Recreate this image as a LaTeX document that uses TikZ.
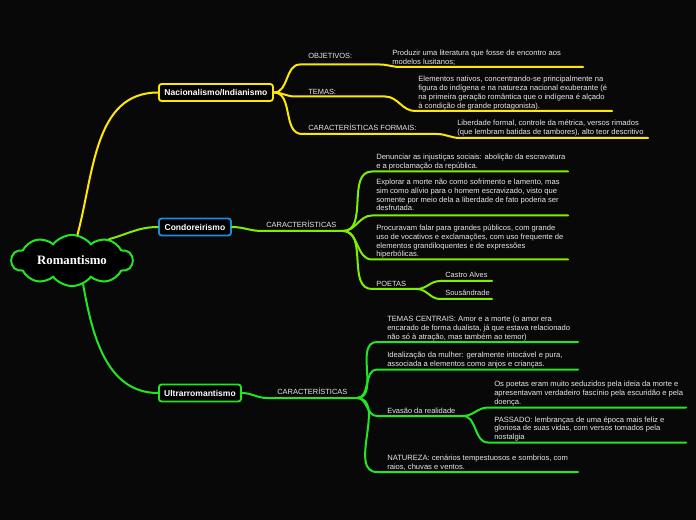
\documentclass[tikz,border=0pt]{standalone}
\usepackage{fontspec}
\setmainfont{Liberation Sans}
\newfontfamily\cloudfont{Liberation Serif}
\usetikzlibrary{shapes.symbols}
\definecolor{bgc}{RGB}{8,8,8}
\definecolor{cY}{RGB}{255,232,0}
\definecolor{cL}{RGB}{128,238,0}
\definecolor{cG}{RGB}{34,230,34}
\definecolor{cB}{RGB}{30,140,220}
\definecolor{txt}{RGB}{232,232,232}
\begin{document}
\begin{tikzpicture}[x=0.75pt,y=-0.75pt,
  conn/.style={line width=1.5pt,line cap=round},
  yconn/.style={conn,draw=cY},
  lconn/.style={conn,draw=cL},
  gconn/.style={conn,draw=cG},
  topbox/.style={draw,line width=1.4pt,rounded corners=2pt,fill=black,text=white,
    font=\bfseries\fontsize{6.4}{7.5}\selectfont,minimum height=12.75pt,inner xsep=0pt,inner ysep=0pt,anchor=west},
  lbl/.style={text=txt,font=\fontsize{5.6}{6.6}\selectfont,inner sep=0pt,anchor=base west},
  body/.style={text=txt,font=\fontsize{5.7}{6.6}\selectfont,inner sep=0pt,align=left,anchor=north west}]
\fill[bgc] (0,0) rectangle (696,520);
\useasboundingbox (0,0) rectangle (696,520);

% central cloud
\node[cloud,cloud puffs=10,cloud puff arc=105,aspect=2.6,draw=cG,line width=1.5pt,fill=black,
  minimum width=90.75pt,minimum height=33pt,inner sep=0pt,text=white,
  font=\cloudfont\bfseries\fontsize{9.6}{11}\selectfont] (cloud) at (72,260.5) {Romantismo};

% main topics
\node[topbox,draw=cY,minimum width=85.5pt] (nac) at (158,92.5) {Nacionalismo/Indianismo};
\node[topbox,draw=cB,minimum width=54pt] (cond) at (158,227) {Condoreirismo};
\node[topbox,draw=cG,minimum width=61.5pt] (ultra) at (158,393) {Ultrarromantismo};

\draw[yconn] (cloud.78) to[out=75,in=180] (nac.west);
\draw[lconn] (cloud.30) to[out=15,in=180] (cond.west);
\draw[gconn] (cloud.-65) to[out=-80,in=180] (ultra.west);

% ---------- Nacionalismo ----------
\coordinate (ob1) at (300,64.5); \coordinate (ob2) at (380,64.5);
\coordinate (ob3) at (400,67);   \coordinate (ob4) at (583,67);
\coordinate (te1) at (295,96.5); \coordinate (te2) at (385,96.5);
\coordinate (te3) at (415,111);  \coordinate (te4) at (612,111);
\coordinate (cf1) at (302,134);  \coordinate (cf2) at (437,134);
\coordinate (cf3) at (460,138);  \coordinate (cf4) at (648,138);
\draw[yconn] (nac.east) to[out=0,in=180] (ob1) -- (ob2) to[out=0,in=180] (ob3) -- (ob4);
\draw[yconn] (nac.east) to[out=0,in=180] (te1) -- (te2) to[out=0,in=180] (te3) -- (te4);
\draw[yconn] (nac.east) to[out=0,in=180] (cf1) -- (cf2) to[out=0,in=180] (cf3) -- (cf4);
\node[lbl] (obj) at (308,58.5) {OBJETIVOS:};
\node[lbl] (tem) at (308,94.5) {TEMAS:};
\node[lbl] (carf) at (308,130.5) {CARACTERÍSTICAS FORMAIS:};
\node[body] (prod) at (392,49.7) {Produzir uma literatura que fosse de encontro aos\\modelos lusitanos;};
\node[body] (elem) at (418,76) {Elementos nativos, concentrando-se principalmente na\\figura do indígena e na natureza nacional exuberante (é\\na primeira geração romântica que o indígena é alçado\\à condição de grande protagonista).};
\node[body] (lib) at (457,120) {Liberdade formal, controle da métrica, versos rimados\\(que lembram batidas de tambores), alto teor descritivo};

% ---------- Condoreirismo ----------
\coordinate (cc1) at (262,231); \coordinate (cc2) at (343,231);
\coordinate (dn1) at (372,171.5); \coordinate (dn2) at (568,171.5);
\coordinate (ex1) at (372,215.5); \coordinate (ex2) at (568,215.5);
\coordinate (pr1) at (372,259.5); \coordinate (pr2) at (568,259.5);
\coordinate (po1) at (372,289);   \coordinate (po2) at (417,289);
\coordinate (ca1) at (440,281);   \coordinate (ca2) at (492,281);
\coordinate (so1) at (440,299);   \coordinate (so2) at (492,299);
\draw[lconn] (cond.east) to[out=0,in=180] (cc1) -- (cc2);
\draw[lconn] (cc2) to[out=0,in=180] (dn1) -- (dn2);
\draw[lconn] (cc2) to[out=0,in=180] (ex1) -- (ex2);
\draw[lconn] (cc2) to[out=0,in=180] (pr1) -- (pr2);
\draw[lconn] (cc2) to[out=0,in=180] (po1) -- (po2);
\draw[lconn] (po2) to[out=0,in=180] (ca1) -- (ca2);
\draw[lconn] (po2) to[out=0,in=180] (so1) -- (so2);
\node[lbl] (carc) at (266,227.5) {CARACTERÍSTICAS};
\node[body] (den) at (376,153.7) {Denunciar as injustiças sociais: abolição da escravatura\\e a proclamação da república.};
\node[body] (exp) at (376,178.7) {Explorar a morte não como sofrimento e lamento, mas\\sim como alívio para o homem escravizado, visto que\\somente por meio dela a liberdade de fato poderia ser\\desfrutada.};
\node[body] (proc) at (376,224.7) {Procuravam falar para grandes públicos, com grande\\uso de vocativos e exclamações, com uso frequente de\\elementos grandiloquentes e de expressões\\hiperbólicas.};
\node[lbl] (poe) at (376,286.5) {POETAS};
\node[lbl] (cas) at (445,277.5) {Castro Alves};
\node[lbl] (sou) at (445,295.5) {Sousândrade};

% ---------- Ultrarromantismo ----------
\coordinate (uc1) at (267,398); \coordinate (uc2) at (357,398);
\coordinate (tc1) at (377,342);   \coordinate (tc2) at (578,342);
\coordinate (id1) at (377,369.5); \coordinate (id2) at (578,369.5);
\coordinate (ev1) at (377,416);   \coordinate (ev2) at (463,416);
\coordinate (op1) at (488,407.5); \coordinate (op2) at (686,407.5);
\coordinate (pa1) at (488,442.5); \coordinate (pa2) at (686,442.5);
\coordinate (na1) at (377,472);   \coordinate (na2) at (578,472);
\draw[gconn] (ultra.east) to[out=0,in=180] (uc1) -- (uc2);
\draw[gconn] (uc2) to[out=0,in=180] (tc1) -- (tc2);
\draw[gconn] (uc2) to[out=0,in=180] (id1) -- (id2);
\draw[gconn] (uc2) to[out=0,in=180] (ev1) -- (ev2);
\draw[gconn] (uc2) to[out=0,in=180] (na1) -- (na2);
\draw[gconn] (ev2) to[out=0,in=180] (op1) -- (op2);
\draw[gconn] (ev2) to[out=0,in=180] (pa1) -- (pa2);
\node[lbl] (caru) at (277,394.5) {CARACTERÍSTICAS};
\node[body] (tcen) at (387,316) {TEMAS CENTRAIS: Amor e a morte (o amor era\\encarado de forma dualista, já que estava relacionado\\não só à atração, mas também ao temor)};
\node[body] (idea) at (387,352) {Idealização da mulher: geralmente intocável e pura,\\associada a elementos como anjos e crianças.};
\node[lbl] (eva) at (387,413) {Evasão da realidade};
\node[body] (opo) at (494,381) {Os poetas eram muito seduzidos pela ideia da morte e\\apresentavam verdadeiro fascínio pela escuridão e pela\\doença.};
\node[body] (pas) at (494,416.3) {PASSADO: lembranças de uma época mais feliz e\\gloriosa de suas vidas, com versos tomados pela\\nostalgia};
\node[body] (nat) at (387,454.7) {NATUREZA: cenários tempestuosos e sombrios, com\\raios, chuvas e ventos.};
\end{tikzpicture}
\end{document}
